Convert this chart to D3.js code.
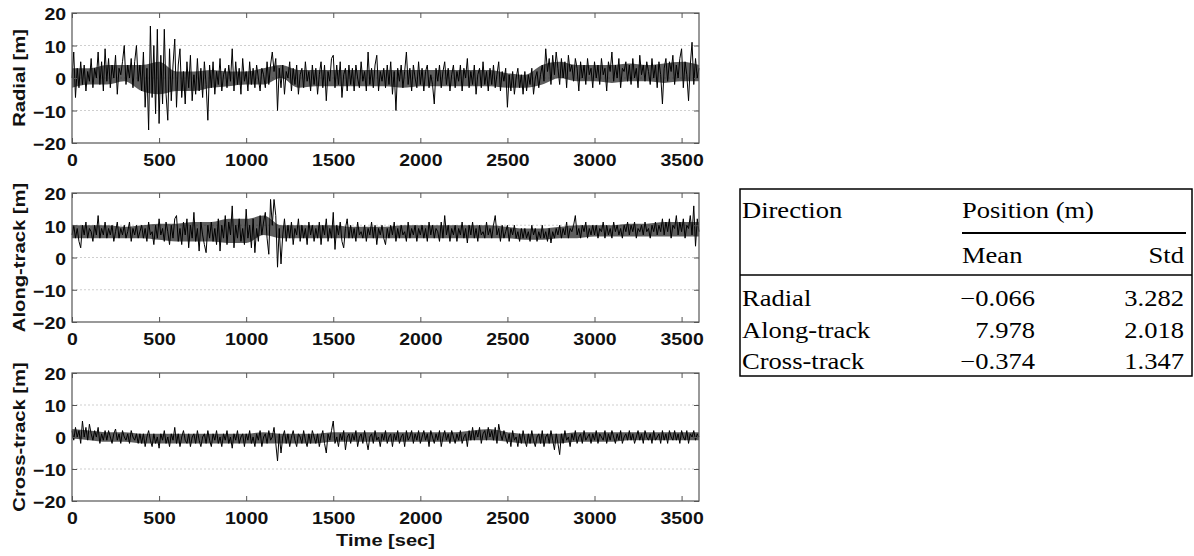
<!DOCTYPE html>
<html>
<head>
<meta charset="utf-8">
<script src="https://cdn.jsdelivr.net/npm/d3@7"></script>
<style>
  body { margin: 0; background: #fff; }
  svg { display: block; }
</style>
</head>
<body>
<svg id="chart" width="1194" height="556"></svg>
<script>
// ---- data (one sample every 10 s) ----
const timeStep = 10
const coreStep = 100
const xTicks = [0, 500, 1000, 1500, 2000, 2500, 3000, 3500]
const yTicks = [-20, -10, 0, 10, 20]
const gridValues = [-10, 0, 10]

const radial = [
  0, 8, -6, 3, -3, 5, -2, 4, -4, 2, -1, 6, -3, 3, 0, 8, -2, 5, -4, 9,
  -1, 6, -3, 4, 0, 7, -5, 3, 1, 5, 10, -2, 4, 0, 6, -3, 5, 10, -1, 4,
  -4, 8, -9, 3, -16, 16, -6, 10, -11, 15, -14, 7, -8, 15, -5, -13, 9, -7, 4, 12,
  -9, 4, 9, -6, 2, -8, 5, -3, 7, -7, 1, -5, 6, -4, 3, -6, 5, -2, -13, 4,
  -3, 5, -5, 2, -2, 6, -4, 1, 3, -3, 4, -1, 9, -4, 5, -2, 3, -5, 6, -1,
  2, -4, 5, -2, 3, -3, 4, 0, -4, 3, 1, -3, 5, -2, 4, 8, 2, 6, -10, 3,
  -3, 4, -5, 2, 0, 5, -4, 3, -2, 4, -5, 1, 3, -3, 5, -1, 2, -4, 4, -2,
  3, -5, 1, 5, -3, 4, -7, 2, -1, 6, 7, -3, 4, -2, 5, -6, 1, 3, -4, 4,
  -2, 3, -4, 4, 0, -3, 5, -1, 2, -4, 8, -2, 3, -3, 4, 7, -4, 2, -1, 3,
  -3, 4, -2, 5, -5, 2, -10, 3, -1, 4, -3, 2, 8, -2, 3, -4, 4, 0, -3, 5,
  -2, 3, -4, 2, 4, -3, 1, -2, -8, 3, -1, 4, -3, 2, 5, -2, 3, -4, 1, 4,
  -3, 2, -1, 4, -4, 3, 0, 6, -3, 2, -2, 4, -5, 1, 3, -3, 5, -2, 2, -4,
  3, -2, 4, -3, 1, 5, -4, 2, -1, 3, -9, 1, -4, 2, -5, 0, 3, -3, 1, -5,
  2, -4, 1, -2, 3, -5, 0, 2, -3, 1, 4, -1, 9, 2, 6, -2, 7, 1, 8, 3,
  -2, 6, 0, 5, -3, 7, 2, 4, -1, 6, 3, -4, 5, 0, 4, -2, 6, 1, 3, -3,
  5, 0, 4, -2, 6, 1, 3, -4, 5, 2, 8, -1, 4, 0, 6, -3, 3, 2, 5, -1,
  4, -2, 6, 0, 3, -3, 7, 1, 4, -1, 5, 2, -2, 6, 0, 4, -3, 5, 1, -8,
  3, 6, -1, 5, 2, 7, -2, 4, 0, 6, 9, -3, 5, 1, -7, 4, 11, -2, 6, 0,
  3
]

const alongTrack = [
  7, 10, 6, 9, 5, 3, 10, 7, 11, 6, 9, 8, 5, 10, 7, 13, 6, 9, 7, 11,
  6, 9, 7, 10, 5, 8, 11, 6, 9, 7, 10, 6, 8, 11, 5, 9, 7, 10, 6, 8,
  10, 6, 9, 5, 11, 7, 8, 4, 10, 6, 12, 7, 9, 5, 11, 8, 4, 10, 6, 12,
  13, 5, 9, 4, 11, 7, 12, 3, 10, 6, 14, 5, 9, 2, 11, 7, 4, 1.5, 10, 6,
  11, 5, 9, 4, 12, 2, 10, 6, 13, 4, 11, 7, 16, 3, 10, 6, 12, 5, 9, 4,
  15, 6, 10, 3, 12, 1.5, 9, 5, 13, 7, 11, 14, 6, 1, 18, 10, 18, 13, -3, 9,
  -2, 7, 12, 5, 10, 6, 11, 4, 9, 7, 12, 5, 10, 6, 9, 4, 11, 7, 10, 5,
  9, 6, 11, 4, 10, 7, 12, 5, 9, 6, 14, 2.5, 10, 7, 11, 5, 3, 9, 12, 6,
  10, 6, 9, 5, 11, 7, 8, 6, 10, 5, 9, 7, 11, 6, 10, 4, 9, 7, 10, 6,
  4, 9, 6, 10, 7, 11, 5, 9, 6, 10, 7, 8, 5, 11, 6, 9, 7, 10, 5, 9,
  7, 10, 6, 9, 5, 11, 7, 10, 6, 9, 8, 5, 11, 6, 13, 7, 10, 5, 9, 7,
  10, 5, 9, 7, 11, 6, 9, 4.5, 10, 7, 11, 6, 9, 5, 10, 7, 8, 6, 11, 7,
  9, 6, 10, 13, 7, 9, 5, 10, 6, 8, 10, 5, 9, 7, 10, 6, 8, 5, 9, 6,
  9, 6, 8, 5, 10, 7, 9, 5, 8, 6, 10, 6, 8, 5, 9, 4.5, 8, 6, 9, 7,
  10, 6, 9, 7, 11, 6, 9, 8, 10, 13, 7, 9, 6, 10, 8, 11, 6, 9, 7, 10,
  7, 10, 6, 9, 8, 11, 6, 10, 7, 9, 6, 11, 8, 10, 7, 9, 6, 10, 8, 11,
  7, 10, 8, 11, 6, 9, 8, 10, 7, 11, 8, 9, 6, 10, 8, 11, 7, 10, 8, 12,
  7, 11, 8, 12, 6, 10, 9, 13, 7, 11, 8, 12, 6, 10, 9, 13, 7, 16, 3.5, 12,
  8
]

const crossTrack = [
  2, -1, 3, 0, 2, -2, 5, 0, 3, -1, 4, 1, -1, 2, 0, 3, -2, 1, -1, 2,
  -1, 2, 0, -2, 1, 2.5, -1, 1, -2, 2, 0, -1, 1, -2, 2, 0, -1, 1, -2, 1,
  -2, 1, -3, 0, 2, -1, -3, 1, -2, 0, -3.5, 1, -1, 2, -2, 0, -3, 1, -1, 3,
  -2, 1, -3, 0, 2, -1, -2, 1, -3, 0, 1, -2, 2, -1, -3, 0, 1, -2, 2, -1,
  -3, 1, -1, 2, -2, 0, -3, 1, -1, 2, -2, 0, -3.5, 1, -1, 2, -2, 0, 1, -3,
  1, -1, 2, -2, 0, -3, 1, -1, 2, -3, 0, 1, -2, 2, -1, 0, 3, -2, -7.5, 1,
  -5, 0, 2, -2, 1, -3, 0, 2, -1, -3, 1, 0, -2, 2, -1, -3, 1, -2, 2, 0,
  -2, 1, -3, 0, 2, -2, -5, 1, -1, 2, 5, -2, 0, -3, 1, -1, 2, -4, 0, 1,
  -2, 1, -1, 2, -3, 0, 1, -2, 2, -1, -4, 0, 1, -2, 2, -1, 0, -3, 1, -1,
  2, -2, 0, 1, -3, 1, -1, 2, -2, 0, 1, -3, 2, -1, 0, 2, -2, 1, -1, 2,
  -2, 0, 2, -1, 1, -3, 2, 0, -2, 1, -1, 2, -3, 0, 2, -1, 1, -2, 2, 0,
  -2, 1, -1, 2, -2, 0, 1, -3, 2, -1, 3, -1, 2, 0, 3, -2, 1, 2, -1, 3,
  0, 2, -1, 3, -2, 4, 1, -1, 2, 0, -2, 1, -3, 2, -1, 0, -3, 1, -2, 2,
  -1, -3, 1, -2, 2, -1, -3, 0, 1, -2, 2, -3, 0, 1, -2, 2, -1, -4, 1, -2,
  -5.5, 1, -2, 2, -1, 0, -3, 1, -1, 2, -2, 0, 1, -2, 2, -1, 0, 1, -2, 1,
  -1, 2, -2, 1, 0, -1, 2, -2, 1, -1, 2, 0, -2, 1, -1, 2, -2, 0, 1, -1,
  2, -1, 1, -2, 0, 2, -1, 1, -2, 2, 0, -1, 1, -2, 2, -1, 0, 1, -2, 2,
  -1, 1, -2, 2, 0, -1, 2, -1, 1, -2, 2, 0, -1, 2, -2, 1, 0, 2, -1, 1,
  0
]

// dense dark core of each trace (one value every 100 s)
const radialCoreLow = [
  -3, -2, -2, -1, -4, -5, -4, -4, -3, -2.5, -2, -2, 0, -3, -2.5, -2.5, -2.5, -2.5, -2.5, -3,
  -2.5, -2.5, -2.5, -2.5, -2.5, -3, -3, -2, 0, -1, -1, -1.5, -1, -1, -1.5, -1, -1
]
const radialCoreHigh = [
  3, 3, 4, 4, 4, 5, 2, 2, 2.5, 2, 2, 3, 4, 2.5, 2.5, 2.5, 2.5, 2.5, 2.5, 2.5,
  2.5, 2.5, 2.5, 2.5, 2.5, 1.5, 1, 4, 5, 4, 4, 4, 4.5, 4, 4.5, 5, 4
]
const alongCoreLow = [
  6, 6, 6, 6, 6, 5.5, 5, 5, 5, 4.5, 4.5, 7, 6, 6, 6, 6, 6, 6, 6, 6,
  6, 6, 6, 6, 6, 6, 5.5, 5.5, 6, 6, 6.5, 6.5, 6.5, 6.5, 6.5, 6.5, 6.5
]
const alongCoreHigh = [
  10, 10, 10, 9.5, 10, 10.5, 10.5, 11, 11, 12, 12, 13, 10, 10, 10, 10, 9.5, 9.5, 9.5, 10,
  10, 10, 10, 10, 10, 9.5, 9, 9, 9.5, 10, 10, 10, 10.5, 10.5, 11, 11, 11
]
const crossCoreLow = [
  -0.5, -1, -1.5, -1.5, -2, -2, -2, -2, -2, -2, -2, -2, -2, -2, -2, -1.5, -1.5, -1.5, -1.5, -1.5,
  -1.5, -1.5, -1.5, -1, -1, -1.5, -2, -2, -2, -1.5, -1.5, -1.5, -1, -1, -1, -1, -1
]
const crossCoreHigh = [
  2.5, 2, 1.5, 1.5, 1, 1, 1, 1, 1, 1, 1, 1.5, 1, 1, 1, 1.5, 1.5, 1.5, 1.5, 1.5,
  1.5, 1.5, 1.5, 2, 2.5, 1.5, 1, 1, 1, 1.5, 1.5, 1.5, 1.5, 1.5, 1.5, 1.5, 1.5
]

const panelLabels = ["Radial [m]", "Along-track [m]", "Cross-track [m]"]
const xLabel = "Time [sec]"

// table
const tableDirections = ["Radial", "Along-track", "Cross-track"]
const tableMeans = ["\u22120.066", "7.978", "\u22120.374"]
const tableStds = ["3.282", "2.018", "1.347"]

// ---- drawing ----
const svg = d3.select("#chart")
const stretch = "scale(1.18,1)"   // the picture's text is wide
const sans = "'Liberation Sans', Arial, Helvetica, sans-serif"
const serif = "'Liberation Serif', 'Times New Roman', serif"

const x = d3.scaleLinear().domain([0, 3600]).range([72, 699])

const panels = [
  {values: radial,     low: radialCoreLow, high: radialCoreHigh, top: 13,  bottom: 143},
  {values: alongTrack, low: alongCoreLow,  high: alongCoreHigh,  top: 193, bottom: 322},
  {values: crossTrack, low: crossCoreLow,  high: crossCoreHigh,  top: 373, bottom: 501}
]

panels.forEach((p, k) => {
  let y = d3.scaleLinear().domain([-20, 20]).range([p.bottom, p.top])
  let g = svg.append("g")

  // grid
  g.selectAll("line.grid").data(gridValues).join("line")
    .attr("class", "grid")
    .attr("x1", x(0)).attr("x2", x(3600))
    .attr("y1", d => y(d)).attr("y2", d => y(d))
    .attr("stroke", "#cfcfcf")
    .attr("stroke-dasharray", "2,2")

  // dark core band
  let band = d3.area()
    .x((d, i) => x(i * coreStep))
    .y0((d, i) => y(p.low[i]))
    .y1((d, i) => y(p.high[i]))
    .curve(d3.curveMonotoneX)
  g.append("path")
    .datum(p.low)
    .attr("d", band)
    .attr("fill", "#111")
    .attr("fill-opacity", 0.68)

  // series
  let line = d3.line()
    .x((d, i) => x(i * timeStep))
    .y(d => y(d))
  g.append("path")
    .datum(p.values)
    .attr("d", line)
    .attr("fill", "none")
    .attr("stroke", "#000")
    .attr("stroke-width", 1)

  // axes, ticks pointing inwards
  let bottomAxis = g.append("g")
    .attr("transform", `translate(0,${p.bottom})`)
    .call(d3.axisBottom(x).tickValues(xTicks).tickFormat(d3.format("d"))
      .tickSizeInner(-5).tickSizeOuter(0).tickPadding(11))
  let topAxis = g.append("g")
    .attr("transform", `translate(0,${p.top})`)
    .call(d3.axisTop(x).tickValues(xTicks).tickSizeInner(-5).tickSizeOuter(0).tickFormat(""))
  let leftAxis = g.append("g")
    .attr("transform", `translate(${x(0)},0)`)
    .call(d3.axisLeft(y).tickValues(yTicks).tickFormat(d3.format("d"))
      .tickSizeInner(-5).tickSizeOuter(0).tickPadding(5))
  let rightAxis = g.append("g")
    .attr("transform", `translate(${x(3600)},0)`)
    .call(d3.axisRight(y).tickValues(yTicks).tickSizeInner(-5).tickSizeOuter(0).tickFormat(""))

  ;[bottomAxis, topAxis, leftAxis, rightAxis].forEach(a => {
    a.select(".domain").remove()
    a.selectAll(".tick line").attr("stroke", "#555")
    a.selectAll(".tick text")
      .attr("font-family", sans)
      .attr("font-size", 16.5)
      .attr("font-weight", "bold")
      .attr("fill", "#111")
      .attr("transform", stretch)
  })
  leftAxis.selectAll(".tick text").attr("dy", "0.42em")

  // frame
  g.append("rect")
    .attr("x", x(0)).attr("y", p.top)
    .attr("width", x(3600) - x(0)).attr("height", p.bottom - p.top)
    .attr("fill", "none")
    .attr("stroke", "#555")
    .attr("stroke-width", 1.2)

  // y label
  g.append("text")
    .attr("transform", `translate(25,${(p.top + p.bottom) / 2}) rotate(-90) scale(1.19,1)`)
    .attr("text-anchor", "middle")
    .attr("font-family", sans)
    .attr("font-size", 17)
    .attr("font-weight", "bold")
    .attr("fill", "#111")
    .text(panelLabels[k])
})

svg.append("text")
  .attr("transform", `translate(${(x(0) + x(3600)) / 2},546) ${stretch}`)
  .attr("text-anchor", "middle")
  .attr("font-family", sans)
  .attr("font-size", 17)
  .attr("font-weight", "bold")
  .attr("fill", "#111")
  .text(xLabel)

// ---- table ----
let tb = svg.append("g")
  .attr("font-family", serif)
  .attr("font-size", 22.5)
  .attr("fill", "#000")

function cell(txt, px, py, anchor) {
  tb.append("text")
    .attr("transform", `translate(${px},${py}) ${stretch}`)
    .attr("text-anchor", anchor || "start")
    .text(txt)
}

tb.append("rect")
  .attr("x", 740).attr("y", 189)
  .attr("width", 452).attr("height", 187)
  .attr("fill", "none").attr("stroke", "#000").attr("stroke-width", 1.5)

cell("Direction", 742, 218)
cell("Position (m)", 962, 218)
tb.append("line")
  .attr("x1", 962).attr("x2", 1186).attr("y1", 233).attr("y2", 233)
  .attr("stroke", "#000").attr("stroke-width", 2)
cell("Mean", 962, 263)
cell("Std", 1184, 263, "end")
tb.append("line")
  .attr("x1", 740).attr("x2", 1192).attr("y1", 275).attr("y2", 275)
  .attr("stroke", "#000").attr("stroke-width", 1.5)

const rowY = [306, 338, 369]
tableDirections.forEach((d, i) => {
  cell(d, 742, rowY[i])
  cell(tableMeans[i], 1035, rowY[i], "end")
  cell(tableStds[i], 1184, rowY[i], "end")
})
</script>
</body>
</html>
